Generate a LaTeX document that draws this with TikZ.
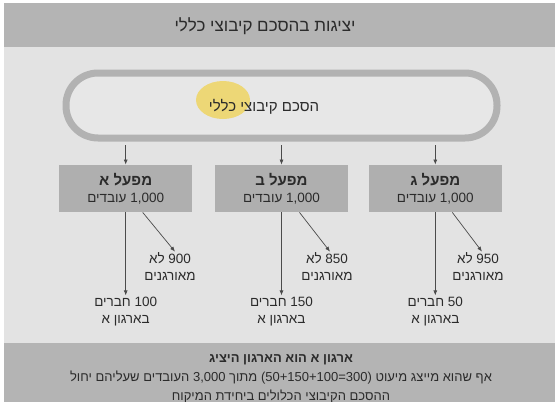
\documentclass[tikz,border=0pt]{standalone}
\usepackage{fontspec}
\setmainfont{Liberation Sans}
\newfontfamily\hebfont[Script=Hebrew]{Liberation Sans}
\newfontfamily\latfont{Liberation Sans}
\TeXXeTstate=1
\usetikzlibrary{arrows.meta,positioning}
\definecolor{PaperGray}{HTML}{E3E3E3}
\definecolor{OvalFill}{HTML}{E7E7E7}
\definecolor{BandGray}{HTML}{B4B4B4}
\definecolor{BoxGray}{HTML}{AFAFAF}
\definecolor{OvalGray}{HTML}{B2B2B2}
\definecolor{Ink}{HTML}{2B2B2B}
\definecolor{MarkYellow}{HTML}{EFD35A}
\newcommand{\heb}[1]{\beginR #1\endR}
\newcommand{\ltr}[1]{\beginL{\latfont #1}\endL{}}
\newcommand{\plantname}[1]{{\fontsize{15}{17}\selectfont\bfseries\heb{#1}}}
\tikzset{
  every picture/.style={line width=0.8pt},
  titletext/.style={
    text=Ink,
    inner sep=1pt,
    font=\hebfont\fontsize{17}{20}\selectfont
  },
  dealoval/.style={
    draw=OvalGray,
    fill=OvalFill,
    line width=7pt,
    rounded corners=32pt,
    minimum width=431pt,
    minimum height=65pt,
    inner sep=0pt
  },
  dealtext/.style={text=Ink, inner sep=1pt, font=\hebfont\fontsize{15}{18}\selectfont},
  plantbox/.style={
    fill=BoxGray,
    align=center,
    text=Ink,
    minimum width=133pt,
    minimum height=47pt,
    inner sep=0pt,
    font=\hebfont\fontsize{13.5}{17}\selectfont
  },
  countlabel/.style={
    align=center,
    text=Ink,
    inner sep=1pt,
    font=\hebfont\fontsize{13.5}{17}\selectfont
  },
  notetext/.style={
    align=center,
    text=Ink,
    inner sep=0pt,
    font=\hebfont\fontsize{13}{19}\selectfont
  },
  flowline/.style={-{Latex[length=5pt,width=4pt]}, draw=Ink!85, line width=0.7pt}
}

\begin{document}
\begin{tikzpicture}[x=1pt, y=-1pt]
  \useasboundingbox (0,0) rectangle (555,402);
  \clip (0,0) rectangle (555,402);
  \fill[white] (0,0) rectangle (555,402);
  \fill[PaperGray] (4,3) rectangle (555,402);

  % title band
  \fill[BandGray] (4,3) rectangle (555,47);
  \node[titletext] (title) at (265,26) {\heb{יציגות בהסכם קיבוצי כללי}};

  % the general agreement
  \node[dealoval] (deal) at (281.5,105.5) {};
  \fill[MarkYellow, opacity=0.8] (223,100) ellipse [x radius=27pt, y radius=19pt];
  \node[dealtext] (dealname) at (264,107) {\heb{הסכם קיבוצי כללי}};

  % plants
  \node[plantbox] (plantB) at (281.5,188.5) {\plantname{מפעל ב}\\\heb{\ltr{1,000} עובדים}};
  \node[plantbox, left=22pt of plantB] (plantA) {\plantname{מפעל א}\\\heb{\ltr{1,000} עובדים}};
  \node[plantbox, right=20pt of plantB] (plantC) {\plantname{מפעל ג}\\\heb{\ltr{1,000} עובדים}};

  \draw[flowline, shorten <=3.5pt] (deal.south -| plantA) -- (plantA);
  \draw[flowline, shorten <=3.5pt] (deal.south -| plantB) -- (plantB);
  \draw[flowline, shorten <=3.5pt] (deal.south -| plantC) -- (plantC);

  % members of organisation A
  \node[countlabel, below=83pt of plantA] (memA) {\heb{\ltr{100} חברים}\\\heb{בארגון א}};
  \node[countlabel, below=83pt of plantB] (memB) {\heb{\ltr{150} חברים}\\\heb{בארגון א}};
  \node[countlabel, below=83pt of plantC] (memC) {\heb{\ltr{50} חברים}\\\heb{בארגון א}};

  % not organised
  \node[countlabel] (nonA) at (170,267) {\heb{\ltr{900} לא}\\\heb{מאורגנים}};
  \node[countlabel] (nonB) at (327,267) {\heb{\ltr{850} לא}\\\heb{מאורגנים}};
  \node[countlabel] (nonC) at (478,267) {\heb{\ltr{950} לא}\\\heb{מאורגנים}};

  \draw[flowline] (plantA) -- (memA);
  \draw[flowline] (plantB) -- (memB);
  \draw[flowline] (plantC) -- (memC);
  \draw[flowline] ([xshift=17pt]plantA.south) -- ([xshift=5pt]nonA.north);
  \draw[flowline] ([xshift=18pt]plantB.south) -- ([xshift=3pt]nonB.north);
  \draw[flowline] ([xshift=17pt]plantC.south) -- ([xshift=4pt]nonC.north);

  % bottom note
  \fill[BandGray] (4,343) rectangle (555,402);
  \node[notetext] (note) at (281,379) {{\bfseries\heb{ארגון א הוא הארגון היציג}}\\
    \heb{אף שהוא מייצג מיעוט \ltr{(50+150+100=300)} מתוך \ltr{3,000} העובדים שעליהם יחול}\\
    \heb{ההסכם הקיבוצי הכלולים ביחידת המיקוח}};
\end{tikzpicture}
\end{document}
